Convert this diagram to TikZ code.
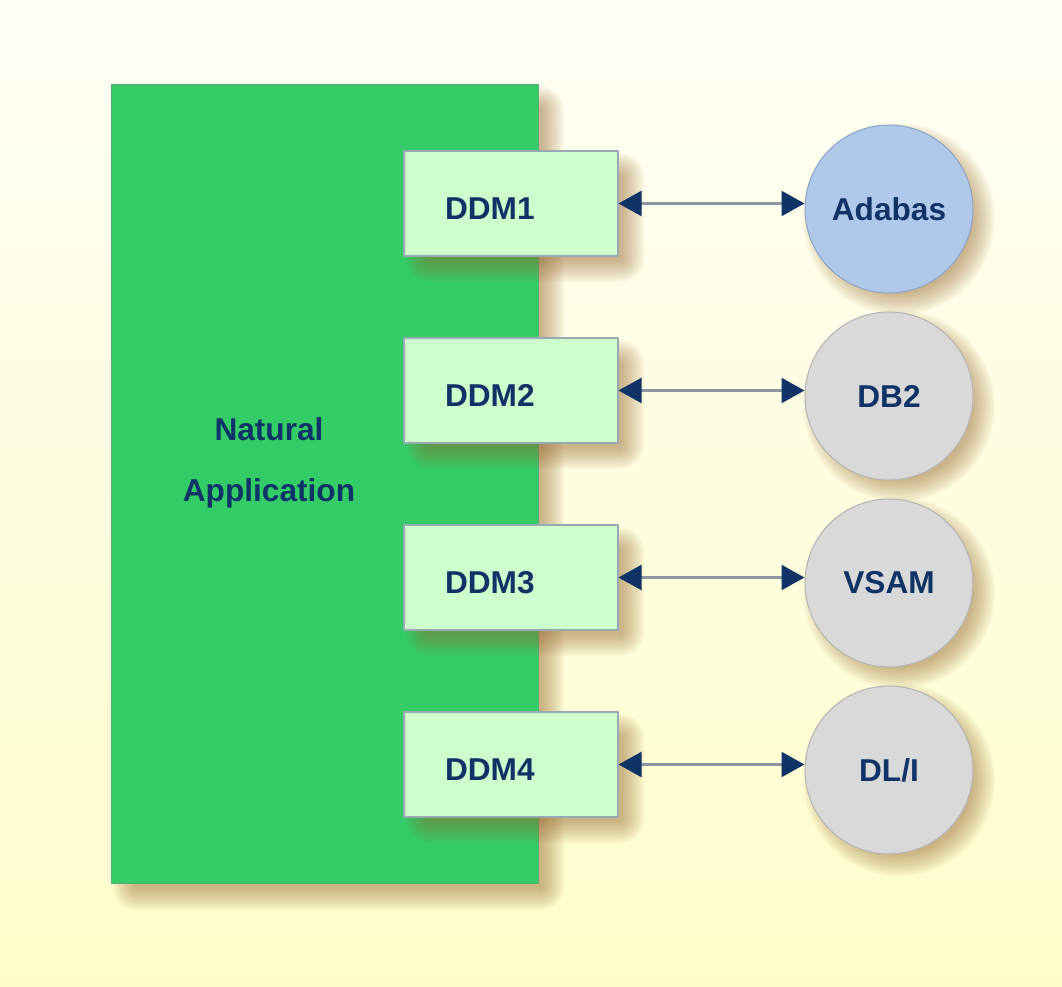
\documentclass[tikz,border=0pt]{standalone}
\usepackage{fontspec}
\setmainfont{Liberation Sans}
\usetikzlibrary{positioning,calc,arrows.meta}
\definecolor{bgtop}{HTML}{FFFFF5}
\definecolor{bgbottom}{HTML}{FEFDCA}
\definecolor{natgreen}{HTML}{33CC66}
\definecolor{natgreenline}{HTML}{5AAE78}
\definecolor{ddmfill}{HTML}{CCFFCC}
\definecolor{ddmline}{HTML}{98A8B4}
\definecolor{adafill}{HTML}{B0C9EA}
\definecolor{adaline}{HTML}{8EA6C6}
\definecolor{dbfill}{HTML}{D9D9D9}
\definecolor{dbline}{HTML}{B5B5B5}
\definecolor{navy}{HTML}{0F3366}
\definecolor{linkgray}{HTML}{8C96A4}
\definecolor{shadowbrown}{HTML}{9A6A30}
\newcommand \myboxshadow[4]
{
\foreach \e in {0,2,...,22}
  \fill[shadowbrown, opacity=0.05, rounded corners=(\e+2)*0.02cm]
    (#1+24-\e,#2+24-\e) rectangle (#3+4+\e,#4+4+\e);
}
\newcommand \mycircleshadow[3]
{
\foreach \e in {0,2,...,22}
  \fill[shadowbrown, opacity=0.05] (#1+10,#2+10) circle (#3-10+\e);
}
\tikzset{
  labelfont/.style={font=\bfseries\fontsize{18}{22}\selectfont, text=navy},
  appbox/.style={draw=natgreenline, fill=natgreen, line width=0.5pt, minimum width=8.54cm, minimum height=16cm},
  ddmbox/.style={draw=ddmline, fill=ddmfill, line width=0.6pt, minimum height=2.1cm, text width=2.64cm,
    inner xsep=0.82cm, align=left, text height=0.64cm, text depth=0pt, labelfont},
  dbcircle/.style={circle, draw=dbline, fill=dbfill, line width=0.6pt, minimum size=3.36cm, inner sep=0pt, labelfont},
  link/.style={draw=linkgray, line width=1.3pt, >={Triangle[length=0.46cm,width=0.5cm,color=navy]}, <->}
}

\begin{document}
\begin{tikzpicture}[x=0.02cm, y=-0.02cm, line join=round]
\useasboundingbox (0,0) rectangle (1062,987);
\shade[top color=bgtop, bottom color=bgbottom] (0,0) rectangle (1062,987);
% application
\myboxshadow{111}{84}{538}{884}
\node[appbox] (app) at (324.5,484) {};
\node[labelfont, align=center, font=\bfseries\fontsize{18}{34.6}\selectfont] (apptext) at (269,463) {Natural\\Application};
% data definition modules
\myboxshadow{404}{151}{618}{256}
\myboxshadow{404}{338}{618}{443}
\myboxshadow{404}{525}{618}{630}
\myboxshadow{404}{712}{618}{817}
\node[ddmbox] (ddm1) at (511,203.5) {DDM1};
\node[ddmbox] (ddm2) at (511,390.5) {DDM2};
\node[ddmbox] (ddm3) at (511,577.5) {DDM3};
\node[ddmbox] (ddm4) at (511,764.5) {DDM4};
% databases
\mycircleshadow{889}{209}{84}
\mycircleshadow{889}{396}{84}
\mycircleshadow{889}{583}{84}
\mycircleshadow{889}{770}{84}
\node[dbcircle, draw=adaline, fill=adafill] (adabas) at (889,209) {Adabas};
\node[dbcircle] (db2)  at (889,396) {DB2};
\node[dbcircle] (vsam) at (889,583) {VSAM};
\node[dbcircle] (dli)  at (889,770) {DL/I};
\draw[link] (ddm1.east) -- (ddm1.east -| adabas.west);
\draw[link] (ddm2.east) -- (ddm2.east -| db2.west);
\draw[link] (ddm3.east) -- (ddm3.east -| vsam.west);
\draw[link] (ddm4.east) -- (ddm4.east -| dli.west);
\end{tikzpicture}
\end{document}
